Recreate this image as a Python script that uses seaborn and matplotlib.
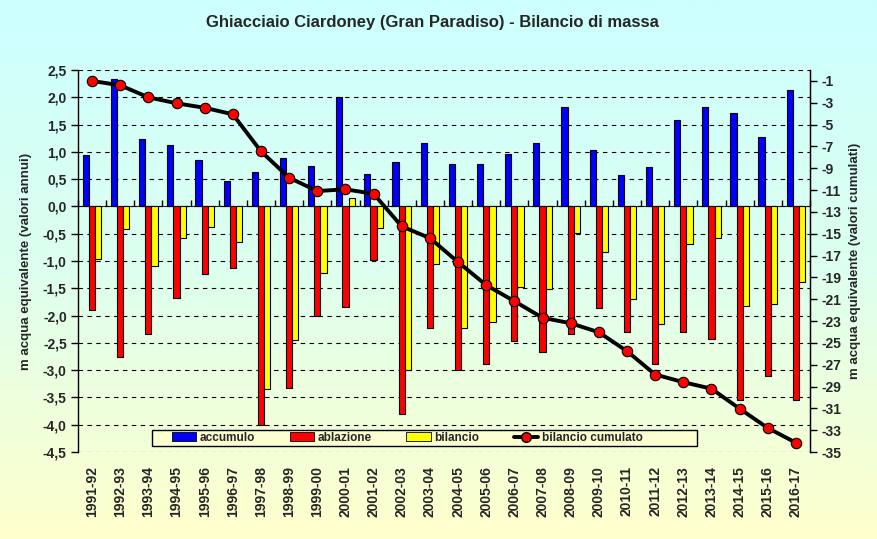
import numpy as np
import pandas as pd
import matplotlib
matplotlib.use("Agg")
import matplotlib.pyplot as plt
import seaborn as sns
from matplotlib.patches import Patch, Rectangle
from matplotlib.lines import Line2D
from matplotlib.colors import LinearSegmentedColormap

anni = ["1991-92", "1992-93", "1993-94", "1994-95", "1995-96", "1996-97", "1997-98",
        "1998-99", "1999-00", "2000-01", "2001-02", "2002-03", "2003-04", "2004-05",
        "2005-06", "2006-07", "2007-08", "2008-09", "2009-10", "2010-11", "2011-12",
        "2012-13", "2013-14", "2014-15", "2015-16", "2016-17"]
accumulo = [0.94, 2.33, 1.23, 1.12, 0.86, 0.46, 0.64, 0.88, 0.75, 2.00, 0.59, 0.81, 1.17,
            0.77, 0.77, 0.97, 1.16, 1.83, 1.03, 0.57, 0.73, 1.58, 1.83, 1.72, 1.28, 2.13]
ablazione = [-1.90, -2.75, -2.34, -1.68, -1.24, -1.13, -4.01, -3.32, -2.00, -1.85, -0.99,
             -3.81, -2.23, -3.00, -2.88, -2.47, -2.67, -2.34, -1.87, -2.30, -2.89, -2.30,
             -2.42, -3.55, -3.10, -3.54]
bilancio = [-0.97, -0.42, -1.10, -0.57, -0.38, -0.66, -3.35, -2.44, -1.22, 0.15, -0.40,
            -3.00, -1.06, -2.23, -2.11, -1.48, -1.52, -0.49, -0.84, -1.70, -2.16, -0.69,
            -0.57, -1.83, -1.79, -1.39]
cumulato = [-1.0, -1.40, -2.50, -3.05, -3.46, -4.06, -7.45, -9.87, -11.09, -10.93, -11.34,
            -14.33, -15.40, -17.60, -19.71, -21.18, -22.70, -23.20, -24.03, -25.76, -27.90,
            -28.60, -29.20, -31.03, -32.80, -34.15]
serie = ["accumulo", "ablazione", "bilancio"]
colori = ["#0000FF", "#FF0000", "#FFFF00"]
left_ticks = [2.5, 2.0, 1.5, 1.0, 0.5, 0.0, -0.5, -1.0, -1.5, -2.0, -2.5, -3.0, -3.5, -4.0, -4.5]
right_ticks = list(range(-1, -36, -2))

df = pd.DataFrame({
    "anno": anni * 3,
    "valore": accumulo + ablazione + bilancio,
    "serie": [s for s in serie for _ in anni],
})

sns.set_style("ticks")
plt.rcParams["font.family"] = ["Liberation Sans", "DejaVu Sans"]
plt.rcParams["axes.unicode_minus"] = False

fig = plt.figure(figsize=(8.77, 5.39), dpi=100)

# gradient background
bg = fig.add_axes([0, 0, 1, 1], zorder=-10)
cmap = LinearSegmentedColormap.from_list("g", ["#CCFFFF", "#DDFFEE", "#FFFFCC"])
bg.imshow(np.linspace(0, 1, 256).reshape(-1, 1), aspect="auto", cmap=cmap,
          extent=[0, 1, 0, 1])
bg.set_axis_off()

ax = fig.add_axes([0.0889, 0.1614, 0.8347, 0.7087])
ax.set_facecolor("none")
sns.barplot(data=df, x="anno", y="valore", hue="serie", hue_order=serie,
            palette=colori, width=0.66, edgecolor="black", linewidth=0.8,
            saturation=1, ax=ax, legend=False)

ax.set_xlim(-0.5, len(anni) - 0.5)
ax.set_ylim(-4.5, 2.5)
ax.set_yticks(left_ticks)
ax.set_yticklabels([f"{v:.1f}".replace(".", ",") for v in left_ticks],
                   fontsize=10, fontweight="bold")
ax.set_xticks(range(len(anni)))
ax.set_xticklabels(anni, rotation=90, fontsize=10, fontweight="bold")
ax.tick_params(axis="x", length=0, pad=10)
ax.tick_params(axis="y", direction="out", length=5, width=1, color="black", pad=3)
ax.set_xlabel("")
ax.set_ylabel("m acqua equivalente (valori annui)", fontsize=9.5, fontweight="bold",
              labelpad=8)
for s in ["top", "bottom"]:
    ax.spines[s].set_visible(False)
ax.spines["left"].set_color("black")
ax.spines["left"].set_linewidth(1)
ax.yaxis.grid(True, linestyle=(0, (4, 4)), color="black", linewidth=0.8)
ax.set_axisbelow(True)

# category axis crossing at zero
sec = ax.secondary_xaxis(4.5 / 7.0)
sec.set_xticks(np.arange(-0.5, len(anni), 1.0))
sec.set_xticklabels([])
sec.tick_params(axis="x", direction="out", length=4, width=1, color="black")
sec.spines["bottom"].set_linewidth(1.2)
sec.spines["bottom"].set_color("black")

ax2 = ax.twinx()
ax2.set_facecolor("none")
pos = np.arange(len(anni))
sns.lineplot(x=pos, y=cumulato, ax=ax2, color="black", linewidth=2.8, marker="o",
             markersize=7.5, markerfacecolor="#FF0000", markeredgecolor="black",
             markeredgewidth=0.8, zorder=5)
ax2.set_ylim(-35, 0)
ax2.set_yticks(right_ticks)
ax2.set_yticklabels([str(v) for v in right_ticks], fontsize=10, fontweight="bold")
ax2.tick_params(axis="y", direction="out", length=5, width=1, color="black", pad=3)
ax2.set_ylabel("m acqua equivalente (valori cumulati)", fontsize=9.5, fontweight="bold",
               labelpad=6)
for s in ["top", "bottom", "left"]:
    ax2.spines[s].set_visible(False)
ax2.spines["right"].set_color("black")
ax2.spines["right"].set_linewidth(1)
ax2.set_xlim(-0.5, len(anni) - 0.5)

# legend frame
frame = Rectangle((0.101, 0.016), 0.745, 0.042, transform=ax2.transAxes,
                  facecolor="#FCFFD0", edgecolor="black", linewidth=1, zorder=6)
ax2.add_patch(frame)

handles = [Patch(facecolor=c, edgecolor="black", linewidth=0.6) for c in colori]
handles.append(Line2D([0], [0], color="black", linewidth=2.8, marker="o", markersize=7,
                      markerfacecolor="#FF0000", markeredgecolor="black"))
labels = serie + ["bilancio cumulato"]
leg = ax2.legend(handles, labels, ncol=4, loc="center left",
                 bbox_to_anchor=(0.128, 0.037), borderaxespad=0, borderpad=0,
                 frameon=False, prop={"size": 8.5, "weight": "bold"},
                 handlelength=2.05, handleheight=0.8, handletextpad=0.35,
                 columnspacing=2.9)
leg.set_zorder(7)

fig.text(0.493, 0.958, "Ghiacciaio Ciardoney (Gran Paradiso) - Bilancio di massa",
         ha="center", va="center", fontsize=12, fontweight="bold")

fig.savefig("out.png", dpi=100)
